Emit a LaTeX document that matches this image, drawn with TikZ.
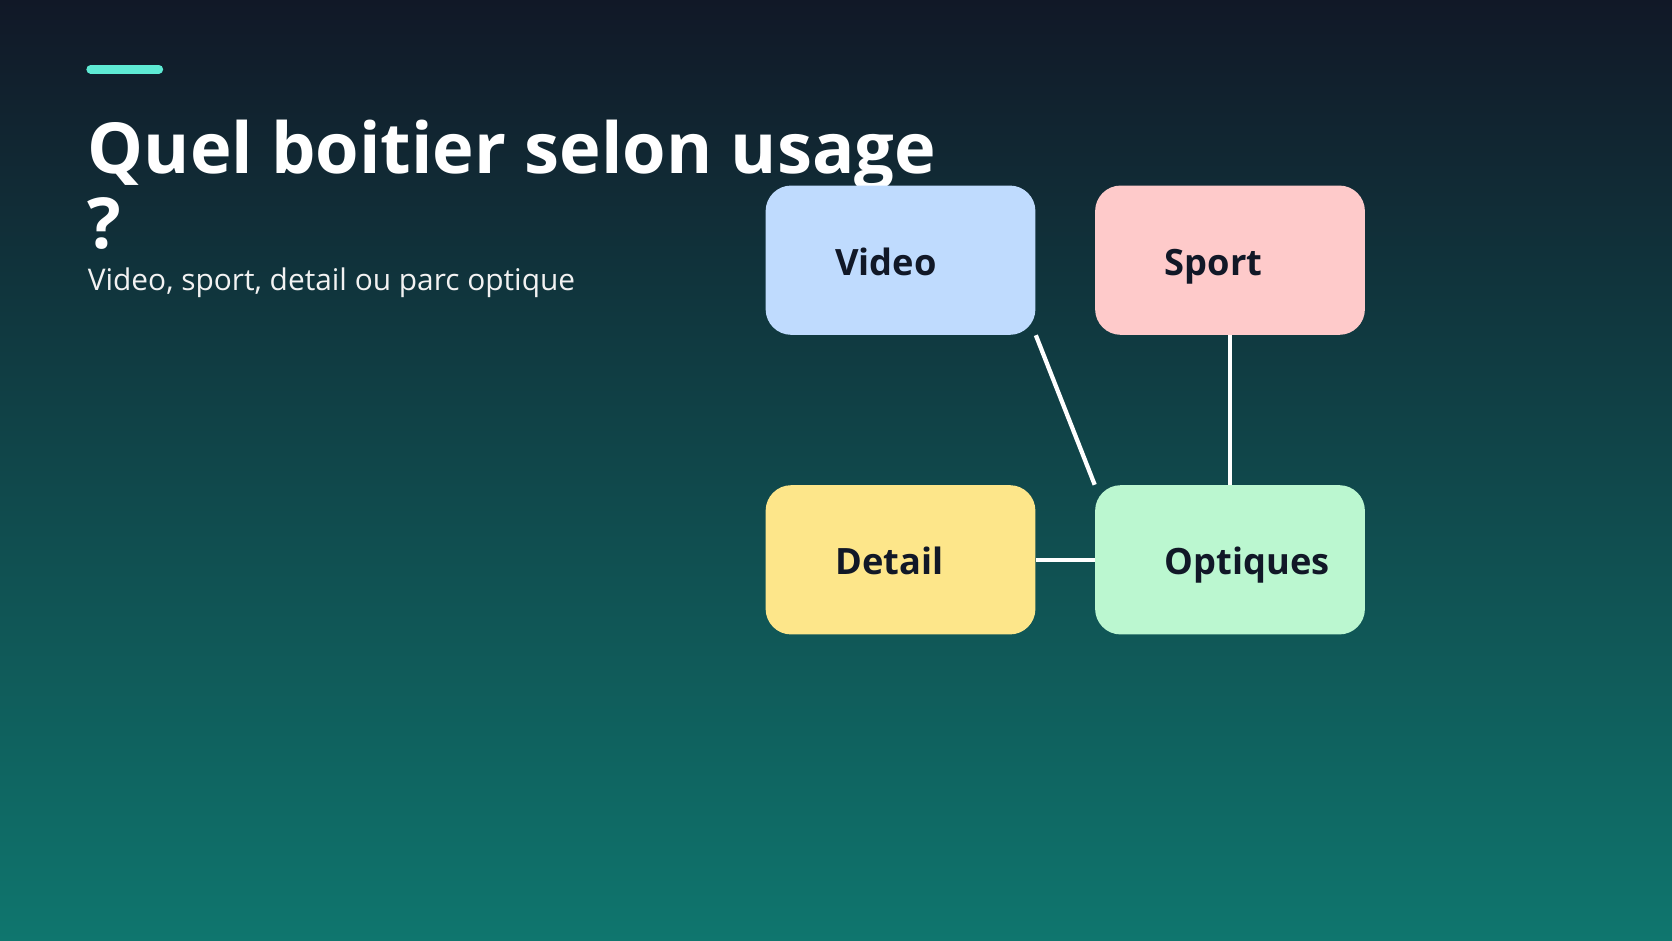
\documentclass[tikz,border=0pt]{standalone}
\usepackage{fontspec}
\setmainfont{Open Sans}
\begin{document}
\begin{tikzpicture}[x=0.5pt,y=-0.5pt,
  box/.style={rounded corners=12pt,minimum width=126.5pt,minimum height=70pt,inner sep=0pt},
  lab/.style={anchor=base west,font=\fontsize{17}{20}\selectfont\bfseries,text=labc,inner sep=0pt},
  link/.style={draw=white,line width=2pt}]
\definecolor{topc}{HTML}{111827}
\definecolor{botc}{HTML}{0F766E}
\definecolor{labc}{HTML}{111827}
\definecolor{accent}{HTML}{5EEAD4}
\definecolor{cv}{HTML}{BFDBFE}
\definecolor{cs}{HTML}{FECACA}
\definecolor{cd}{HTML}{FDE68A}
\definecolor{co}{HTML}{BBF7D0}
\useasboundingbox (0,0) rectangle (1568,882);
\shade[top color=topc,bottom color=botc] (0,0) rectangle (1568,882);
\draw[accent,line width=4pt,line cap=round] (85,65) -- (149,65);
\node[anchor=base west,inner sep=0pt,text=white,font=\fontsize{33}{38}\selectfont\bfseries] (t1) at (82,163) {Quel boitier selon usage};
\node[anchor=base west,inner sep=0pt,text=white,font=\fontsize{33}{38}\selectfont\bfseries] (t2) at (82,233) {?};
\node[anchor=base west,inner sep=0pt,text=white!90!gray,font=\fontsize{14}{17}\selectfont] (st) at (82,272) {Video, sport, detail ou parc optique};
\node[box,fill=cv] (v) at (844.5,244) {};
\node[box,fill=cs] (s) at (1153.5,244) {};
\node[box,fill=cd] (d) at (844.5,525) {};
\node[box,fill=co] (o) at (1153.5,525) {};
\node[lab] at (783,258) {Video};
\node[lab] at (1092,258) {Sport};
\node[lab] at (783,539) {Detail};
\node[lab] at (1092,539) {Optiques};
\draw[link] (v.south east) -- (o.north west);
\draw[link] (s.south) -- (o.north);
\draw[link] (d.east) -- (o.west);
\end{tikzpicture}
\end{document}
